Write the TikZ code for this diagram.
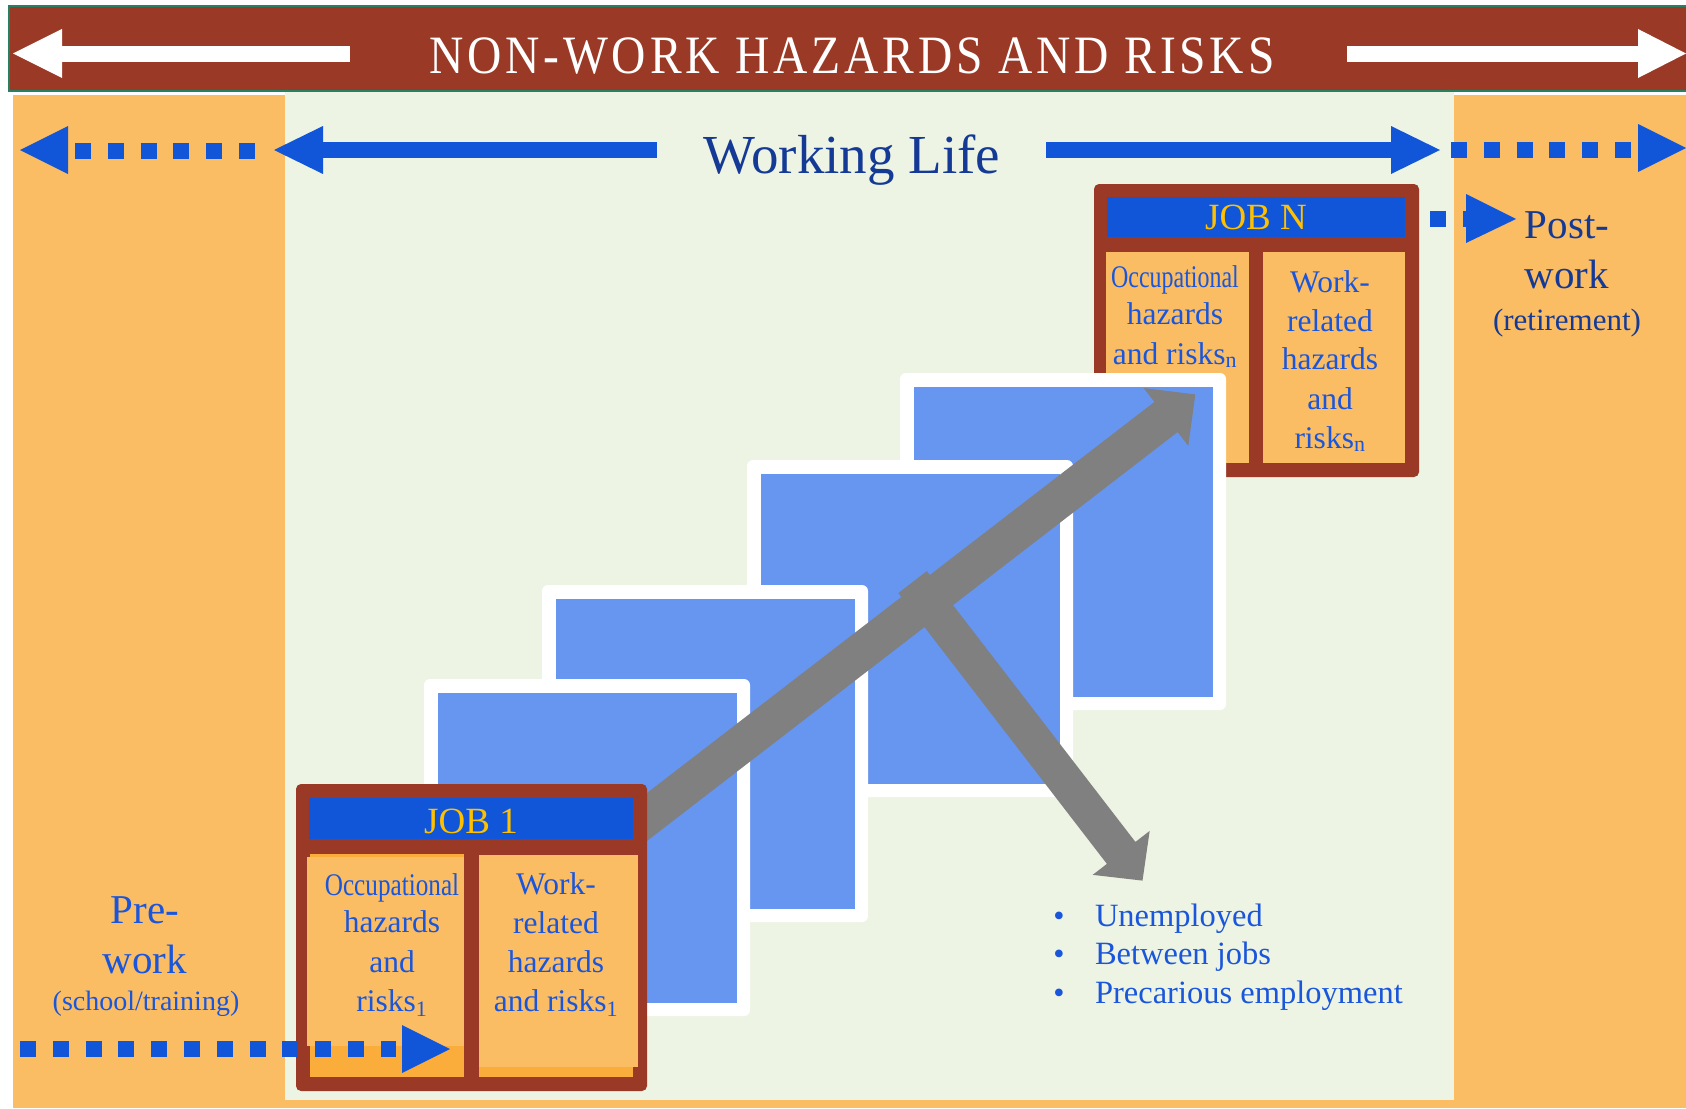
\documentclass[tikz,border=0pt]{standalone}
\usepackage{fontspec}
\setmainfont{Liberation Serif}
\newfontfamily\bannerfont[LetterSpace=8]{Liberation Serif}
\usetikzlibrary{calc}
\definecolor{bannerbrown}{RGB}{154,58,38}
\definecolor{bannerline}{RGB}{40,128,96}
\definecolor{bandorange}{RGB}{251,189,99}
\definecolor{darkorange}{RGB}{251,173,60}
\definecolor{worklifegreen}{RGB}{237,244,227}
\definecolor{arrowblue}{RGB}{17,86,216}
\definecolor{squareblue}{RGB}{103,150,240}
\definecolor{arrowgray}{RGB}{128,128,128}
\definecolor{navytext}{RGB}{20,58,150}
\definecolor{celltext}{RGB}{26,86,219}
\definecolor{jobgold}{RGB}{255,192,0}
\begin{document}
\begin{tikzpicture}[x=1pt,y=-1pt,
  txt/.style={anchor=base, inner sep=0pt, outer sep=0pt},
  cell/.style={txt, text=celltext, font=\fontsize{31.5}{38}\selectfont},
  jobtitle/.style={txt, text=jobgold, font=\fontsize{37}{44}\selectfont},
  bigword/.style={txt, font=\fontsize{41}{48}\selectfont},
  dotline/.style={line width=16pt, draw=arrowblue, dash pattern=on 16pt off 16.8pt},
  whiteframe/.style={fill=white, rounded corners=6pt},
  bluehead/.style={fill=arrowblue},
  grayarrow/.style={fill=arrowgray}
]
\useasboundingbox (0,0) rectangle (1686,1108);
\fill[white] (0,0) rectangle (1686,1108);
% background bands
\fill[bandorange] (13,95) rectangle (1686,1108);
\fill[worklifegreen] (285,92) rectangle (1454,1100);
% banner
\filldraw[fill=bannerbrown, draw=bannerline, line width=1.5pt] (9,6) rectangle (1690,91);
\fill[white] (62,46) rectangle (350,62);
\fill[white] (62,29) -- (62,78) -- (13,53.5) -- cycle;
\fill[white] (1347,46) rectangle (1638,62);
\fill[white] (1638,29) -- (1638,78) -- (1686,53.5) -- cycle;
\node[txt, text=white, font=\bannerfont\fontsize{54}{60}\selectfont] (banner) at (852,74) {\scalebox{0.88}[1]{NON-WORK HAZARDS AND RISKS}};
% working life arrows
\coordinate (wlLa) at (75,150.5);
\coordinate (wlLb) at (256,150.5);
\draw[dotline] (wlLa) -- (wlLb);
\fill[bluehead] (68,126) -- (68,174) -- (20,150) -- cycle;
\fill[arrowblue] (323,142) rectangle (657,158);
\fill[bluehead] (323,126) -- (323,174) -- (274,150) -- cycle;
\node[txt, text=navytext, font=\fontsize{55}{62}\selectfont] (worklife) at (852,173) {Working Life};
\fill[arrowblue] (1046,142) rectangle (1391,158);
\fill[bluehead] (1391,126) -- (1391,174) -- (1440,150) -- cycle;
\coordinate (wlRa) at (1451,149.5);
\coordinate (wlRb) at (1631,149.5);
\draw[dotline] (wlRa) -- (wlRb);
\fill[bluehead] (1638,124) -- (1638,172) -- (1686,148) -- cycle;
% JOB N box
\fill[bannerbrown, rounded corners=5pt] (1094,184) rectangle (1419,477);
\fill[arrowblue] (1107,197) rectangle (1405,237);
\fill[bandorange] (1106,252) rectangle (1249,463);
\fill[bandorange] (1263,252) rectangle (1405,463);
\node[jobtitle] (jobN) at (1256,229) {JOB N};
\node[cell] (nOcc) at (1175,287) {\scalebox{0.76}[1]{Occupational}};
\node[cell] (nHaz) at (1175,324) {hazards};
\node[cell] (nRisk) at (1175,364) {and risks\textsubscript{n}};
\node[cell] (nWork) at (1330,292) {Work-};
\node[cell] (nRel) at (1330,331) {related};
\node[cell] (nHaz2) at (1330,369) {hazards};
\node[cell] (nAnd) at (1330,409) {and};
\node[cell] (nRisk2) at (1330,448) {risks\textsubscript{n}};
% stacked job squares (back to front)
\foreach \x/\y in {900/373, 747/460, 542/585, 424/679} {
  \fill[whiteframe] (\x,\y) rectangle ++(326,337);
  \fill[squareblue] (\x+13.5,\y+13.5) rectangle ++(299,310);
}
% gray arrows
\fill[grayarrow] (571.6,899.05) -- (548.4,868.95) -- (1154.4,401.95) -- (1143.73,388.09)
  -- (1195.3,394.4) -- (1188.27,445.91) -- (1177.6,432.05) -- cycle;
\fill[grayarrow] (926.8,571.1) -- (898.3,593.1) -- (1106.89,863.88) -- (1092.65,874.86)
  -- (1142.5,880.6) -- (1149.65,830.94) -- (1135.41,841.92) -- cycle;
% JOB 1 box
\fill[bannerbrown, rounded corners=5pt] (296,784) rectangle (647,1091);
\fill[arrowblue] (309,798) rectangle (633,839);
\fill[darkorange] (310,854) rectangle (464,1077);
\fill[bandorange] (307,857) rectangle (464,1046);
\fill[darkorange] (479,855) rectangle (633,1077);
\fill[bandorange] (479,855) rectangle (638,1067);
\node[jobtitle] (job1) at (471,833) {JOB 1};
\node[cell] (oOcc) at (392,895) {\scalebox{0.8}[1]{Occupational}};
\node[cell] (oHaz) at (392,932) {hazards};
\node[cell] (oAnd) at (392,972) {and};
\node[cell] (oRisk) at (392,1011) {risks\textsubscript{1}};
\node[cell] (oWork) at (556,894) {Work-};
\node[cell] (oRel) at (556,933) {related};
\node[cell] (oHaz2) at (556,972) {hazards};
\node[cell] (oRisk2) at (556,1011) {and risks\textsubscript{1}};
% pre-work dotted arrow
\coordinate (preA) at (20,1049);
\coordinate (preB) at (396,1049);
\draw[dotline] (preA) -- (preB);
\fill[bluehead] (402,1025) -- (402,1073) -- (450,1049) -- cycle;
% post-work dotted arrow
\coordinate (postA) at (1430,219);
\coordinate (postB) at (1470,219);
\draw[dotline] (postA) -- (postB);
\fill[bluehead] (1466,194) -- (1466,243) -- (1516,219) -- cycle;
% side labels
\node[bigword, text=celltext] (pre1) at (145,923) {Pre-};
\node[bigword, text=celltext] (pre2) at (145,973) {work};
\node[txt, text=celltext, font=\fontsize{28}{34}\selectfont] (pre3) at (146,1010) {(school/training)};
\node[bigword, text=navytext] (post1) at (1567,238) {Post-};
\node[bigword, text=navytext] (post2) at (1567,288) {work};
\node[txt, text=navytext, font=\fontsize{31}{36}\selectfont] (post3) at (1567,330) {(retirement)};
% bullet list
\foreach \yy/\tt [count=\i] in {926/Unemployed, 964/Between jobs, 1003/Precarious employment} {
  \node[cell, font=\fontsize{32}{38}\selectfont] (bul\i) at (1059,\yy) {\textbullet};
  \node[cell, anchor=base west, font=\fontsize{32.5}{38}\selectfont] (item\i) at (1095,\yy) {\tt};
}
\end{tikzpicture}
\end{document}
